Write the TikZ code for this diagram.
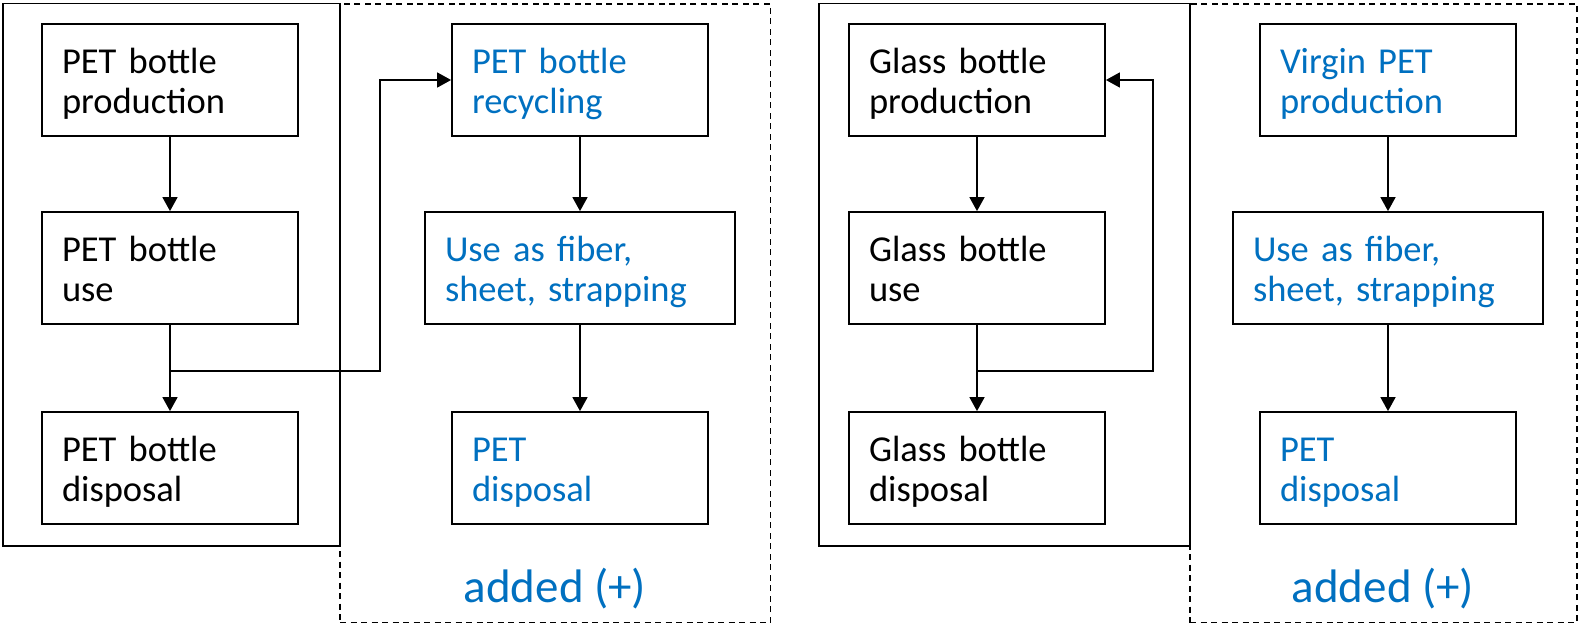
\documentclass[tikz,border=0pt]{standalone}
\usepackage{fontspec}
\setmainfont{Carlito}
\usetikzlibrary{arrows.meta}
\definecolor{addblue}{RGB}{0,112,192}
\tikzset{
  stagebox/.style={draw, line width=1.8pt, inner xsep=20pt, inner ysep=0pt,
    text width=216pt, align=left, text height=49pt, text depth=63pt,
    font=\fontsize{36.5pt}{40.5pt}\selectfont},
  widebox/.style={stagebox, text width=270pt},
  addtext/.style={text=addblue},
  conn/.style={line width=1.6pt, -{Triangle[length=14pt,width=15pt]}},
  feed/.style={line width=1.6pt},
  groupbox/.style={draw, line width=1.5pt, inner sep=0pt},
  addbox/.style={draw, line width=1.3pt, dash pattern=on 6pt off 4.5pt, inner sep=0pt},
  addlabel/.style={text=addblue, font=\fontsize{47pt}{52pt}\selectfont, anchor=base, inner sep=0pt}
}
\begin{document}
\begin{tikzpicture}[x=1pt, y=-1pt]
\useasboundingbox (0,0) rectangle (1580,624);

% ---------- PET bottle system ----------
\node[groupbox, minimum width=337pt, minimum height=542.5pt] (sysL) at (171.5,274.75) {};
\node[addbox, minimum width=430.5pt, minimum height=618.5pt] (addL) at (555.25,313.25) {};
\node[addlabel] (addLtxt) at (555,602) {added (+)};

\node[stagebox] (pprod) at (170,80) {PET bottle\\production};
\node[stagebox] (puse) at (170,268) {PET bottle\\use};
\node[stagebox] (pdisp) at (170,468) {PET bottle\\disposal};

\node[stagebox, addtext] (precy) at (580,80) {PET bottle\\recycling};
\node[widebox, addtext] (pfib) at (580,268) {Use as fiber,\\sheet, strapping};
\node[stagebox, addtext] (pdispB) at (580,468) {PET\\disposal};

\coordinate (jL) at (170,371);
\coordinate (kL) at (380,371);
\draw[conn] (pprod) -- (puse);
\draw[conn] (puse) -- (pdisp);
\draw[feed, -{Triangle[length=14pt,width=15pt]}] (jL) -- (kL) |- (precy.west);
\draw[conn] (precy) -- (pfib);
\draw[conn] (pfib) -- (pdispB);

% ---------- Glass bottle system ----------
\node[groupbox, minimum width=371pt, minimum height=542.5pt] (sysR) at (1004.5,274.75) {};
\node[addbox, minimum width=387pt, minimum height=618.5pt] (addR) at (1383.5,313.25) {};
\node[addlabel] (addRtxt) at (1383,602.3) {added (+)};

\node[stagebox] (gprod) at (977,80) {Glass bottle\\production};
\node[stagebox] (guse) at (977,268) {Glass bottle\\use};
\node[stagebox] (gdisp) at (977,468) {Glass bottle\\disposal};

\node[stagebox, addtext] (vprod) at (1388,80) {Virgin PET\\production};
\node[widebox, addtext] (vfib) at (1388,268) {Use as fiber,\\sheet, strapping};
\node[stagebox, addtext] (vdisp) at (1388,468) {PET\\disposal};

\coordinate (jR) at (977,371);
\coordinate (kR) at (1153,371);
\draw[conn] (gprod) -- (guse);
\draw[conn] (guse) -- (gdisp);
\draw[feed, -{Triangle[length=14pt,width=15pt]}] (jR) -- (kR) |- (gprod.east);
\draw[conn] (vprod) -- (vfib);
\draw[conn] (vfib) -- (vdisp);
\end{tikzpicture}
\end{document}
